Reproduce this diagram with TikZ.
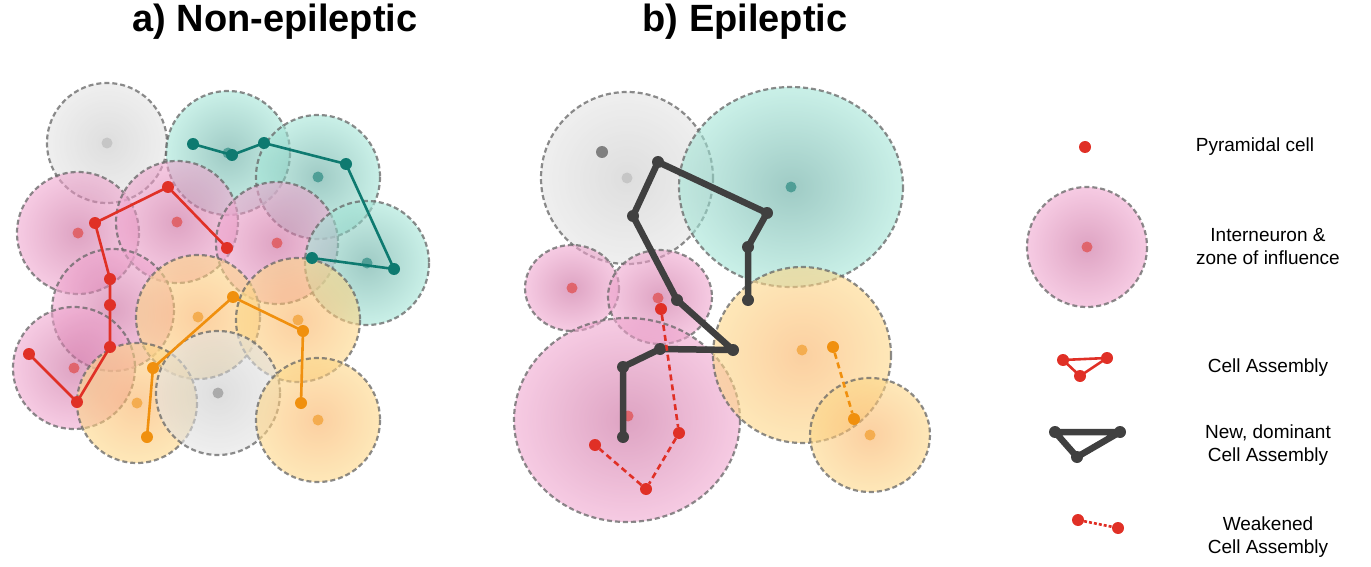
\documentclass[tikz,border=0pt]{standalone}
\usepackage{fontspec}
\setmainfont{Liberation Sans}
\definecolor{zgrey}{HTML}{E4E4E4}
\definecolor{zgreyd}{HTML}{C8C8C8}
\definecolor{zteal}{HTML}{A6E6D8}
\definecolor{ztealD}{HTML}{5FA89E}
\definecolor{zpink}{HTML}{F0A8D0}
\definecolor{zpinkD}{HTML}{C8669A}
\definecolor{zorg}{HTML}{FDD889}
\definecolor{zorgD}{HTML}{F9B062}
\definecolor{cred}{HTML}{E03026}
\definecolor{cteal}{HTML}{0E7A70}
\definecolor{corg}{HTML}{F0900E}
\definecolor{cdark}{HTML}{404040}
\newcommand\zone[6]{\shade[inner color=#6,outer color=#5,fill opacity=0.6] (#1,#2) ellipse [x radius=#3,y radius=#4];
  \draw[zoneline] (#1,#2) ellipse [x radius=#3,y radius=#4];}
\tikzset{
 zoneline/.style={draw=black!60,dashed,dash pattern=on 5pt off 3pt,line width=2.2pt,opacity=0.75},
 pdot/.style={circle,inner sep=0pt,minimum size=12pt,fill=#1},
 ldot/.style={circle,inner sep=0pt,minimum size=11pt,fill=#1,opacity=0.55},
 asm/.style={line width=2.6pt,#1},
 dom/.style={line width=6.5pt,cdark,line join=round},
 weak/.style={line width=2.6pt,dashed,dash pattern=on 6pt off 4pt,#1},
 ttl/.style={font=\bfseries\fontsize{38}{40}\selectfont},
 lg/.style={font=\fontsize{19}{23}\selectfont,align=center}
}
\begin{document}
\begin{tikzpicture}[x=1pt,y=-1pt]
\useasboundingbox (0,0) rectangle (1371,567);
\node[ttl] (ta) at (275,22) {a) Non-epileptic};
\node[ttl] (tb) at (745,22) {b) Epileptic};
% panel a zones
\zone{107}{143}{60}{60}{zgrey}{zgreyd}
\zone{228}{153}{62}{62}{zteal}{ztealD}
\zone{318}{177}{62}{62}{zteal}{ztealD}
\zone{78}{233}{61}{61}{zpink}{zpinkD}
\zone{177}{222}{61}{61}{zpink}{zpinkD}
\zone{277}{243}{61}{61}{zpink}{zpinkD}
\zone{367}{263}{62}{62}{zteal}{ztealD}
\zone{113}{310}{61}{61}{zpink}{zpinkD}
\zone{74}{368}{61}{61}{zpink}{zpinkD}
\zone{198}{317}{62}{62}{zorg}{zorgD}
\zone{298}{320}{62}{62}{zorg}{zorgD}
\zone{137}{403}{60}{60}{zorg}{zorgD}
\zone{218}{393}{62}{62}{zgrey}{zgreyd}
\zone{318}{420}{62}{62}{zorg}{zorgD}
% light interneuron dots a
\node[ldot=gray!60] (ia1) at (107,143) {};
\node[ldot=cteal] (ia2) at (228,153) {};
\node[ldot=cteal] (ia3) at (318,177) {};
\node[ldot=cred] (ia4) at (78,233) {};
\node[ldot=cred] (ia5) at (177,222) {};
\node[ldot=cred] (ia6) at (277,243) {};
\node[ldot=cteal] (ia7) at (367,263) {};
\node[ldot=cred] (ia9) at (74,368) {};
\node[ldot=corg] (ia10) at (198,317) {};
\node[ldot=corg] (ia11) at (298,320) {};
\node[ldot=corg] (ia12) at (137,403) {};
\node[ldot=gray] (ia13) at (218,393) {};
\node[ldot=corg] (ia14) at (318,420) {};
% red assembly
\foreach \n/\p in {r1/{29,354},r2/{77,402},r3/{110,347},r4/{110,305},r5/{110,279},r6/{95,223},r7/{168,187},r8/{227,248}}
  \node[pdot=cred] (\n) at (\p) {};
\draw[asm=cred] (r1.center)--(r2.center)--(r3.center)--(r4.center)--(r5.center)--(r6.center)--(r7.center)--(r8.center);
% teal assembly
\foreach \n/\p in {t1/{193,144},t2/{232,155},t3/{264,143},t4/{346,164},t5/{394,269},t6/{312,258}}
  \node[pdot=cteal] (\n) at (\p) {};
\draw[asm=cteal] (t1.center)--(t2.center)--(t3.center)--(t4.center)--(t5.center)--(t6.center);
% orange assembly
\foreach \n/\p in {o1/{147,437},o2/{153,368},o3/{233,297},o4/{303,331},o5/{301,403}}
  \node[pdot=corg] (\n) at (\p) {};
\draw[asm=corg] (o1.center)--(o2.center)--(o3.center)--(o4.center)--(o5.center);
% panel b zones
\zone{627}{178}{86}{86}{zgrey}{zgreyd}
\zone{791}{187}{112}{100}{zteal}{ztealD}
\zone{572}{288}{47}{43}{zpink}{zpinkD}
\zone{660}{297}{52}{47}{zpink}{zpinkD}
\zone{627}{420}{113}{102}{zpink}{zpinkD}
\zone{802}{355}{89}{88}{zorg}{zorgD}
\zone{870}{435}{60}{57}{zorg}{zorgD}
\node[ldot=gray!60] (ib1) at (627,178) {};
\node[pdot=gray] (ib0) at (602,152) {};
\node[ldot=cteal] (ib2) at (791,187) {};
\node[ldot=cred] (ib3) at (572,288) {};
\node[ldot=cred] (ib4) at (658,298) {};
\node[ldot=cred] (ib5) at (628,416) {};
\node[ldot=corg] (ib6) at (802,350) {};
\node[ldot=corg] (ib7) at (870,435) {};
% dominant assembly
\foreach \n/\p in {d1/{623,437},d2/{623,367},d3/{660,349},d4/{733,350},d5/{677,300},d6/{633,216},d7/{658,162},d8/{767,213},d9/{748,247},d10/{748,300}}
  \node[pdot=cdark] (\n) at (\p) {};
\draw[dom] (d1.center)--(d2.center)--(d3.center)--(d4.center)--(d5.center)--(d6.center)--(d7.center)--(d8.center)--(d9.center)--(d10.center);
% weakened assemblies
\foreach \n/\p in {w1/{661,309},w2/{679,433},w3/{646,489},w4/{595,445}}
  \node[pdot=cred] (\n) at (\p) {};
\draw[weak=cred] (w1)--(w2)--(w3)--(w4);
\node[pdot=corg] (wo1) at (833,347) {};
\node[pdot=corg] (wo2) at (854,419) {};
\draw[weak=corg] (wo1)--(wo2);
% legend
\node[pdot=cred] (lp) at (1085,147) {};
\node[lg] (lpt) at (1255,147) {Pyramidal cell};
\zone{1087}{247}{60}{60}{zpink}{zpinkD}
\node[ldot=cred] (li) at (1087,247) {};
\node[lg] (lit) at (1268,247) {Interneuron \&\\zone of influence};
\node[pdot=cred] (la1) at (1063,360) {};
\node[pdot=cred] (la2) at (1107,358) {};
\node[pdot=cred] (la3) at (1080,376) {};
\draw[asm=cred] (la1.center)--(la2.center)--(la3.center)--cycle;
\node[lg] (lat) at (1268,368) {Cell Assembly};
\node[pdot=cdark] (ld1) at (1055,432) {};
\node[pdot=cdark] (ld2) at (1120,432) {};
\node[pdot=cdark] (ld3) at (1077,457) {};
\draw[dom] (ld1.center)--(ld2.center)--(ld3.center)--cycle;
\node[lg] (ldt) at (1268,445) {New, dominant\\Cell Assembly};
\node[pdot=cred] (lw1) at (1078,520) {};
\node[pdot=cred] (lw2) at (1118,528) {};
\draw[weak=cred,dash pattern=on 3pt off 2pt] (lw1)--(lw2);
\node[lg] (lwt) at (1268,537) {Weakened\\Cell Assembly};
\end{tikzpicture}
\end{document}
